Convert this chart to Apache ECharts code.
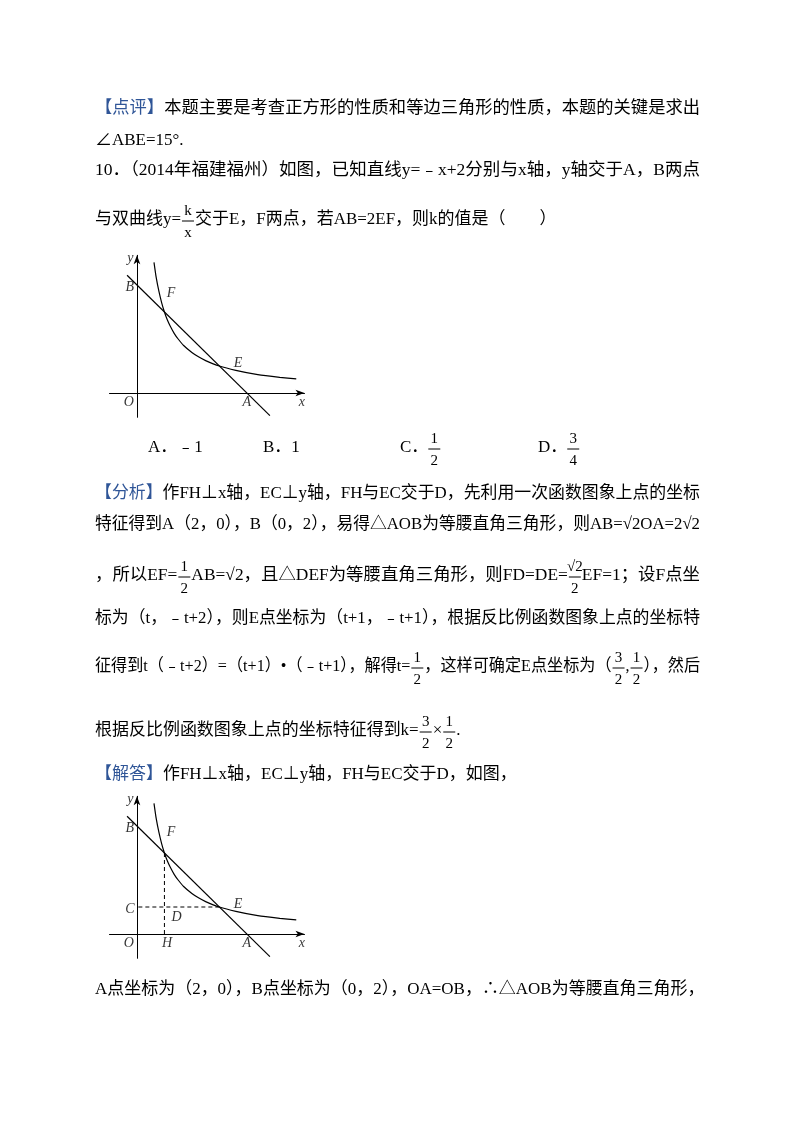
<!DOCTYPE html>
<html><head><meta charset="utf-8">
<script src="https://cdn.jsdelivr.net/npm/echarts@6/dist/echarts.min.js"></script>
<style>html,body{margin:0;padding:0;background:#fff}#c{width:800px;height:1132px}</style>
</head><body><div id="c"></div>
<script>
// straight line y = -x + 2 (end points)
const lineX = [-0.18, 2.42];
const lineY = [2.18, -0.42];
// hyperbola points
const hypX = [0.31, 0.35, 0.4, 0.45, 0.5, 0.55, 0.6, 0.68, 0.75, 0.85, 1.0, 1.12, 1.25, 1.5, 1.8, 2.2, 2.6, 2.9];
const hypY = [2.42, 2.14, 1.88, 1.67, 1.5, 1.36, 1.25, 1.10, 1.0, 0.88, 0.75, 0.67, 0.6, 0.5, 0.42, 0.34, 0.29, 0.26];
// labels in diagram 1 and 2
const labels1 = [['y',-0.12,2.5],['B',-0.13,1.96],['F',0.62,1.85],['E',1.84,0.55],['O',-0.15,-0.18],['A',2.0,-0.18],['x',3.0,-0.18]];
const labels2 = [['y',-0.12,2.5],['B',-0.13,1.96],['F',0.62,1.88],['C',-0.13,0.45],['D',0.72,0.3],['E',1.84,0.55],['O',-0.15,-0.18],['H',0.55,-0.18],['A',2.0,-0.18],['x',3.0,-0.18]];
const dashF = [[0.5,1.5],[0.5,0]];
const dashE = [[1.5,0.5],[0,0.5]];

// text lines: [y, full-width?, parts]
const textLines = [
  [109,true,[{b:'【点评】'},'本题主要是考查正方形的性质和等边三角形的性质，本题的关键是求出']],
  [141,false,['∠ABE=15°.']],
  [171,true,['10．（2014年福建福州）如图，已知直线y=﹣x+2分别与x轴，y轴交于A，B两点']],
  [220,false,['与双曲线y=',{f:['k','x']},'交于E，F两点，若AB=2EF，则k的值是（　　）']],
  [494,true,[{b:'【分析】'},'作FH⊥x轴，EC⊥y轴，FH与EC交于D，先利用一次函数图象上点的坐标']],
  [525,true,['特征得到A（2，0），B（0，2），易得△AOB为等腰直角三角形，则AB=√2OA=2√2']],
  [576,true,['，所以EF=',{f:['1','2']},'AB=√2，且△DEF为等腰直角三角形，则FD=DE=',{f:['√2','2']},'EF=1；设F点坐']],
  [619,true,['标为（t，﹣t+2），则E点坐标为（t+1，﹣t+1），根据反比例函数图象上点的坐标特']],
  [667,true,['征得到t（﹣t+2）=（t+1）•（﹣t+1），解得t=',{f:['1','2']},'，这样可确定E点坐标为（',{f:['3','2']},',',{f:['1','2']},'），然后']],
  [731,false,['根据反比例函数图象上点的坐标特征得到k=',{f:['3','2']},'×',{f:['1','2']},'.']],
  [775,false,[{b:'【解答】'},'作FH⊥x轴，EC⊥y轴，FH与EC交于D，如图，']],
  [990,false,['A点坐标为（2，0），B点坐标为（0，2），OA=OB，∴△AOB为等腰直角三角形，']]
];
const options = [[148,'A．﹣1'],[263,'B．1'],[400,'C．',['1','2']],[538,'D．',['3','4']]];

const FONT = '17px "Liberation Serif", "Noto Sans CJK SC", serif';
const FW = 14, LEFT = 95, RIGHT = 700;
const blue = '#2f5597';
const ctx = document.createElement('canvas').getContext('2d'); ctx.font = FONT;
const mw = s => ctx.measureText(s).width;
function frac(cx,cy,n,d){return [
  {type:'text',x:cx,y:cy-10,style:{text:n,font:'15px "Liberation Serif", serif',fill:'#000',textAlign:'center',textVerticalAlign:'middle'}},
  {type:'line',shape:{x1:cx-6,y1:cy,x2:cx+6,y2:cy},style:{stroke:'#000',lineWidth:1}},
  {type:'text',x:cx,y:cy+12,style:{text:d,font:'15px "Liberation Serif", serif',fill:'#000',textAlign:'center',textVerticalAlign:'middle'}}];}
function natural(parts){let t=0,f=0;parts.forEach(p=>{if(p.f)f+=FW;else t+=mw(p.b||p);});return [t,f];}
let scs=[];textLines.forEach(l=>{if(l[1]){const [t,f]=natural(l[2]);scs.push((RIGHT-LEFT-f)/t);}});
const avgS = scs.reduce((a,b)=>a+b,0)/scs.length;
let g=[];
textLines.forEach(l=>{
  const [t,f]=natural(l[2]);
  const s = l[1] ? (RIGHT-LEFT-f)/t : avgS;
  let x=LEFT;
  l[2].forEach(p=>{
    if(p.f){g.push(...frac(x+FW/2,l[0]+1,p.f[0],p.f[1]));x+=FW;return;}
    const str=p.b||p;
    g.push({type:'text',x:x,y:l[0],scaleX:s,style:{text:str,font:FONT,fill:p.b?blue:'#000',textVerticalAlign:'middle'}});
    x+=mw(str)*s;
  });
});
options.forEach(o=>{
  g.push({type:'text',x:o[0],y:448,scaleX:avgS,style:{text:o[1],font:FONT,fill:'#000',textVerticalAlign:'middle'}});
  if(o[2]) g.push(...frac(o[0]+mw(o[1])*avgS+6,449,o[2][0],o[2][1]));
});

function axes(i){
  const al={onZero:true,symbol:['none','arrow'],symbolSize:[5,9],lineStyle:{color:'#000',width:1}};
  return {
    x:{gridIndex:i,type:'value',min:-0.5,max:3.05,axisLine:al,axisTick:{show:false},axisLabel:{show:false},splitLine:{show:false}},
    y:{gridIndex:i,type:'value',min:-0.45,max:2.55,axisLine:al,axisTick:{show:false},axisLabel:{show:false},splitLine:{show:false}}
  };
}
const a0=axes(0), a1=axes(1);
const lineData = lineX.map((x,i)=>[x,lineY[i]]);
const hypData = hypX.map((x,i)=>[x,hypY[i]]);
const blk={color:'#000',width:1.2};
function labSeries(arr,i){return {type:'scatter',xAxisIndex:i,yAxisIndex:i,symbolSize:0,silent:true,clip:false,
  data:arr.map(l=>({value:[l[1],l[2]],name:l[0]})),
  label:{show:true,position:'inside',formatter:p=>p.name,fontFamily:'Liberation Serif',fontStyle:'italic',fontSize:14,color:'#000'}};}
function curves(i){return [
  {type:'line',xAxisIndex:i,yAxisIndex:i,data:lineData,symbol:'none',lineStyle:blk,clip:false},
  {type:'line',xAxisIndex:i,yAxisIndex:i,data:hypData,symbol:'none',smooth:0.2,lineStyle:blk,clip:false}];}
const opt={
  animation:false,
  grid:[{left:109.5,top:255.3,width:195,height:162},{left:109.5,top:796.3,width:195,height:162}],
  xAxis:[a0.x,a1.x], yAxis:[a0.y,a1.y],
  series:[...curves(0),...curves(1),
    {type:'line',xAxisIndex:1,yAxisIndex:1,data:dashF,symbol:'none',lineStyle:{color:'#000',width:1,type:[4,3]}},
    {type:'line',xAxisIndex:1,yAxisIndex:1,data:dashE,symbol:'none',lineStyle:{color:'#000',width:1,type:[4,3]}},
    labSeries(labels1,0),labSeries(labels2,1)],
  graphic:g
};
const ch=echarts.init(document.getElementById('c'));
ch.setOption(opt);
</script></body></html>
